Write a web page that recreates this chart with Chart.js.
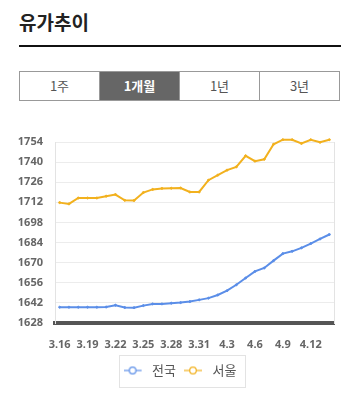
<!DOCTYPE html>
<html>
<head>
<meta charset="utf-8">
<script src="https://cdn.jsdelivr.net/npm/chart.js@4"></script>
<style>
  html, body { margin: 0; padding: 0; background: #fff; }
  body { width: 350px; height: 397px; position: relative; overflow: hidden; font-family: 'Noto Sans CJK KR', 'Noto Sans', sans-serif; }
  #title { position: absolute; left: 19px; top: 8px; font-size: 19px; font-weight: 700; color: #222; }
  #rule { position: absolute; left: 19px; top: 45px; width: 322px; height: 2px; background: #111; }
  #tabs { position: absolute; left: 19px; top: 71px; width: 321px; height: 30px; display: flex; box-sizing: border-box; border: 1px solid #999; }
  #tabs div { flex: 1; text-align: center; line-height: 28px; font-size: 13px; color: #555; border-left: 1px solid #999; }
  #tabs div:first-child { border-left: none; }
  #tabs div.on { background: #666; color: #fff; font-weight: 700; }
  #wrap { position: absolute; left: 0; top: 120px; width: 350px; height: 277px; }
</style>
</head>
<body>
<div id="title">유가추이</div>
<div id="rule"></div>
<div id="tabs"><div>1주</div><div class="on">1개월</div><div>1년</div><div>3년</div></div>
<div id="wrap"><canvas id="c"></canvas></div>
<script>
const dates = ['3.16','3.17','3.18','3.19','3.20','3.21','3.22','3.23','3.24','3.25','3.26','3.27','3.28','3.29','3.30','3.31','4.1','4.2','4.3','4.4','4.5','4.6','4.7','4.8','4.9','4.10','4.11','4.12','4.13','4.14'];
const national = [1639,1639,1639,1639,1639,1639.1,1640.4,1638.8,1638.7,1640.1,1641.3,1641.3,1641.8,1642.2,1642.9,1644.1,1645.3,1647.5,1650.5,1654.6,1659.3,1663.9,1666.3,1671.4,1676.3,1677.9,1680.3,1683.3,1686.5,1689.6];
const seoul = [1711.8,1710.9,1715,1715,1715,1716.3,1717.4,1713.4,1713.3,1718.8,1721,1721.7,1721.8,1722,1719.2,1719.2,1727.4,1730.9,1734.4,1736.7,1744.4,1740.7,1742,1752.4,1755.6,1755.6,1753,1755.6,1753.8,1755.6];
const seriesNames = ['전국','서울'];
const seriesColors = ['#5b8ee8','#f2b11e'];
const yMin = 1628, yMax = 1754, yStep = 14;
const shownEvery = 3;

function legendMarker(color) {
  const cv = document.createElement('canvas');
  cv.width = 22; cv.height = 10;
  const g = cv.getContext('2d');
  g.strokeStyle = color; g.lineWidth = 1.2;
  g.beginPath(); g.moveTo(0, 5); g.lineTo(18, 5); g.stroke();
  g.fillStyle = '#fff';
  g.beginPath(); g.arc(9, 5, 3.3, 0, Math.PI * 2); g.fill(); g.stroke();
  return cv;
}

const legendShift = {
  id: 'legendShift',
  afterLayout(chart) {
    if (chart.legend) { chart.legend.left += 5; chart.legend.right += 5; }
  }
};

const legendBox = {
  id: 'legendBox',
  afterDraw(chart) {
    const boxes = chart.legend && chart.legend.legendHitBoxes;
    if (!boxes || !boxes.length) return;
    let l = Infinity, r = -Infinity, t = Infinity, b = -Infinity;
    boxes.forEach(h => { l = Math.min(l, h.left); r = Math.max(r, h.left + h.width); t = Math.min(t, h.top); b = Math.max(b, h.top + h.height); });
    const ctx = chart.ctx;
    ctx.save();
    ctx.strokeStyle = '#e3e3e3'; ctx.lineWidth = 1;
    ctx.strokeRect(Math.round(l - 5) + 0.5, Math.round(t - 9) + 0.5, Math.round(r - l + 13), Math.round(b - t + 19));
    ctx.restore();
  }
};

const tickFont = { family: "'Noto Sans', 'Noto Sans CJK KR', sans-serif", size: 11, weight: 'bold' };

new Chart(document.getElementById('c'), {
  type: 'line',
  data: {
    labels: dates,
    datasets: [national, seoul].map((d, i) => ({
      label: seriesNames[i],
      data: d,
      borderColor: seriesColors[i],
      backgroundColor: seriesColors[i],
      pointBackgroundColor: seriesColors[i],
      pointBorderColor: seriesColors[i],
      borderWidth: 2,
      pointRadius: 1,
      pointBorderWidth: 1,
      tension: 0,
      clip: false
    }))
  },
  options: {
    responsive: true,
    maintainAspectRatio: false,
    animation: false,
    layout: { padding: { top: 22, left: 0, right: 0, bottom: 10 } },
    plugins: {
      tooltip: { enabled: false },
      legend: {
        position: 'bottom',
        labels: {
          usePointStyle: true,
          pointStyleWidth: 22,
          color: '#555',
          font: { family: "'Noto Sans CJK KR', sans-serif", size: 13 },
          padding: 8,
          generateLabels(chart) {
            return chart.data.datasets.map((ds, i) => ({
              text: ds.label, pointStyle: legendMarker(seriesColors[i]),
              fillStyle: '#fff', strokeStyle: seriesColors[i], lineWidth: 0, datasetIndex: i, hidden: false, fontColor: '#555'
            }));
          }
        }
      }
    },
    scales: {
      x: {
        offset: true,
        grid: { display: false, drawTicks: false },
        border: { display: true, color: '#555', width: 4 },
        ticks: {
          autoSkip: false, maxRotation: 0, padding: 15, color: '#666', font: tickFont,
          callback(v, i) { return i % shownEvery === 0 ? dates[i] : ''; }
        },
        afterFit(s) { s.height = 33; }
      },
      y: {
        min: yMin, max: yMax,
        grid: { color: '#ececec', drawTicks: false },
        border: { display: true, color: '#e3e3e3' },
        ticks: { stepSize: yStep, padding: 12, color: '#666', font: tickFont, callback(v) { return String(v); } },
        afterFit(s) { s.width = 55; }
      },
      y2: {
        position: 'right',
        min: yMin, max: yMax,
        grid: { drawOnChartArea: false, drawTicks: false },
        border: { display: true, color: '#e3e3e3' },
        ticks: { display: false },
        afterFit(s) { s.width = 16; }
      }
    }
  },
  plugins: [legendShift, legendBox]
});
</script>
</body>
</html>
